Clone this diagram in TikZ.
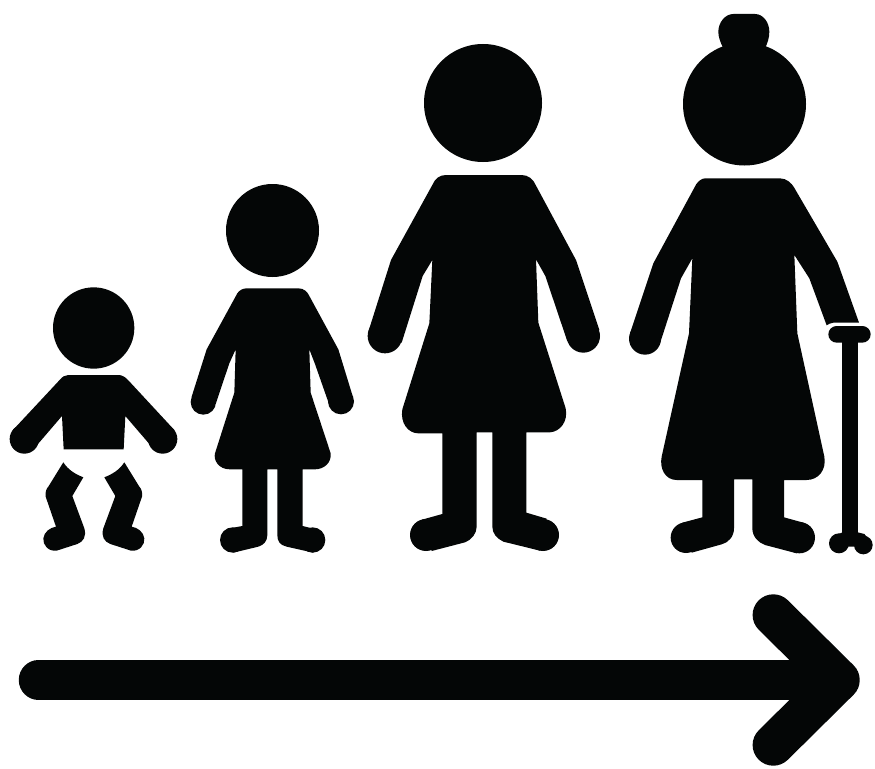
\documentclass[tikz,border=0pt]{standalone}
\definecolor{inkblack}{HTML}{040606}
\tikzset{
  zoomed/.style 2 args={shift={(#1pt,-#2pt)},x=.33333pt,y=-.33333pt},
  ink/.style={fill=inkblack,draw=none},
  arrowline/.style={draw=inkblack,line cap=round,line join=round}
}
\begin{document}
\begin{tikzpicture}[x=1pt,y=-1pt]
\useasboundingbox (0,0) rectangle (875,768);
\fill[white] (0,0) rectangle (875,768);

% ---- baby
\begin{scope}[zoomed={0}{280}]
\fill[ink] (281,144) circle[radius=122];
\fill[ink] (186,408) -- (191,508) -- (371,508) -- (376,408) -- (461,507) -- (523,450)
  -- (385,301) .. controls (375,290) and (365,285) .. (355,285)
  -- (205,285) .. controls (195,285) and (187,290) .. (178,301)
  -- (39,450) -- (101,507) -- cycle;
\fill[ink] (488,477) circle[radius=44];
\fill[ink] (73,477) circle[radius=44];
\fill[ink] (190,547) .. controls (205,570) and (225,582) .. (250,592) -- (217,648) -- (253,745)
  .. controls (260,770) and (250,785) .. (232,792) -- (170,812)
  .. controls (145,815) and (128,795) .. (130,775)
  .. controls (133,755) and (150,743) .. (168,740) -- (137,650)
  .. controls (135,635) and (140,625) .. (145,620) -- cycle;
\fill[ink] (373,547) .. controls (358,570) and (338,582) .. (313,592) -- (346,648) -- (310,745)
  .. controls (303,770) and (313,785) .. (331,792) -- (393,812)
  .. controls (418,815) and (435,795) .. (433,775)
  .. controls (430,755) and (413,743) .. (395,740) -- (426,650)
  .. controls (428,635) and (423,625) .. (418,620) -- cycle;
\end{scope}

% ---- child
\fill[ink] (272.5,230.5) circle[radius=46.5];
\begin{scope}[zoomed={180}{280}]
\fill[ink] (200,25) -- (355,25) .. controls (372,25) and (382,35) .. (388,48)
  -- (475,208) -- (517,345) -- (447,372) -- (405,252) -- (388,208) -- (392,338)
  -- (452,520) .. controls (455,550) and (430,568) .. (405,568)
  -- (368,568) -- (368,738) -- (408,748) -- (400,818) -- (320,800)
  .. controls (300,795) and (292,785) .. (292,765)
  -- (292,568) -- (262,568) -- (262,765)
  .. controls (262,785) and (250,795) .. (235,800)
  -- (160,818) -- (150,745) -- (187,738) -- (187,568) -- (150,568)
  .. controls (115,568) and (100,540) .. (105,520)
  -- (163,338) -- (167,208) -- (148,250) -- (107,372) -- (35,350) -- (80,208)
  -- (172,40) .. controls (178,30) and (190,25) .. (200,25) -- cycle;
\fill[ink] (483,364) circle[radius=39];
\fill[ink] (70,366) circle[radius=38];
\fill[ink] (398,780) circle[radius=38];
\fill[ink] (158,780) circle[radius=38];
\end{scope}

% ---- woman
\fill[ink] (483,103) circle[radius=59];
\begin{scope}[zoomed={360}{170}]
\fill[ink] (258,15) -- (485,15) .. controls (505,15) and (520,28) .. (527,45)
  -- (648,270) -- (718,480) -- (622,514) -- (556,318) -- (528,268) -- (535,458)
  -- (617,715) .. controls (625,755) and (600,785) .. (570,787)
  -- (499,787) -- (499,1028) -- (560,1046) -- (540,1142) -- (430,1115)
  .. controls (410,1105) and (397,1090) .. (397,1070)
  -- (397,787) -- (350,787) -- (350,1070)
  .. controls (350,1090) and (335,1110) .. (315,1117)
  -- (215,1143) -- (186,1049) -- (247,1032) -- (247,790) -- (175,790)
  .. controls (145,790) and (120,760) .. (127,718)
  -- (208,460) -- (217,270) -- (188,318) -- (125,518) -- (25,485) -- (93,270)
  -- (217,45) .. controls (225,25) and (240,15) .. (258,15) -- cycle;
\fill[ink] (670,498) circle[radius=50];
\fill[ink] (75,498) circle[radius=52];
\fill[ink] (549,1095) circle[radius=48];
\fill[ink] (198,1095) circle[radius=48];
\end{scope}

% ---- grandmother
\fill[ink] (744.5,104) circle[radius=61.5];
\begin{scope}[zoomed={670}{0}]
\fill[ink] (190,42) -- (255,42) .. controls (280,42) and (298,68) .. (298,95)
  .. controls (298,115) and (292,130) .. (285,145) -- (160,145)
  .. controls (150,125) and (145,110) .. (145,95)
  .. controls (145,68) and (165,42) .. (190,42) -- cycle;
\end{scope}
\begin{scope}[zoomed={620}{170}]
\fill[ink] (255,25) -- (480,25) .. controls (500,25) and (515,40) .. (522,52)
  -- (652,275) -- (717,458) -- (640,458) .. controls (630,460) and (625,462) .. (620,466)
  -- (568,325) -- (523,255) -- (532,490)
  -- (613,860) .. controls (620,900) and (595,930) .. (560,930)
  -- (492,930) -- (492,1042) -- (550,1058) -- (530,1150) -- (435,1125)
  .. controls (415,1118) and (397,1100) .. (397,1075)
  -- (397,928) -- (342,928) -- (342,1075)
  .. controls (342,1100) and (325,1118) .. (305,1123)
  -- (215,1148) -- (187,1058) -- (247,1042) -- (247,930) -- (170,930)
  .. controls (135,930) and (118,895) .. (125,860)
  -- (207,490) -- (217,265) -- (183,325) -- (120,520) -- (30,490) -- (100,280)
  -- (222,55) .. controls (230,35) and (245,25) .. (255,25) -- cycle;
\fill[ink] (75,506) circle[radius=48];
\fill[ink] (538,1103) circle[radius=47];
\fill[ink] (198,1103) circle[radius=46];
% cane
\fill[ink,rounded corners=8.3pt] (625,468) rectangle (752,518);
\fill[ink] (667,500) rectangle (713,1095);
\fill[ink] (655,1093) -- (667,1087) -- (713,1087) -- (733,1092) -- (740,1100) -- (740,1130) -- (655,1130) -- cycle;
\fill[ink] (657,1120) circle[radius=30];
\fill[ink] (730,1125) circle[radius=28];
\end{scope}

% ---- arrow
\coordinate (shaftstart) at (38.5,680);
\coordinate (vertex) at (839,680);
\coordinate (barbtop) at (773.3,615);
\coordinate (barbbottom) at (773.3,745);
\draw[arrowline,line width=39.5pt] (shaftstart) -- (vertex);
\draw[arrowline,line width=41.4pt] (barbtop) -- (vertex) -- (barbbottom);
\end{tikzpicture}
\end{document}
